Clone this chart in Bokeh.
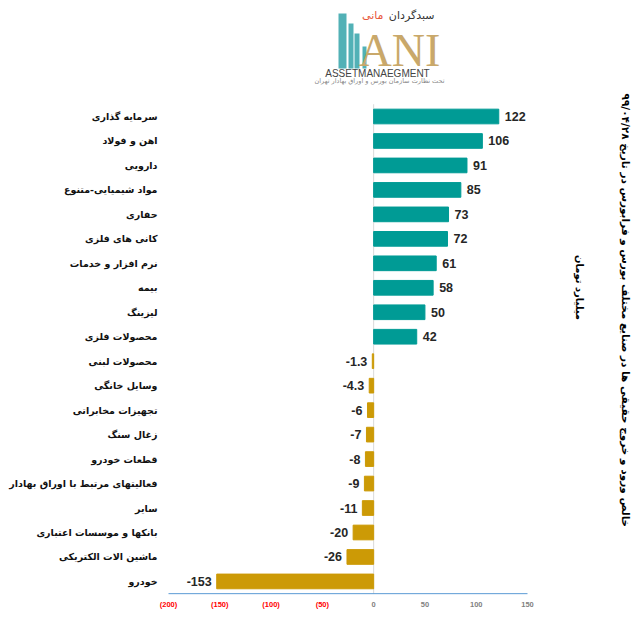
import math
from bokeh.plotting import figure
from bokeh.models import ColumnDataSource, Range1d, Label, BoxAnnotation
from bokeh.embed import file_html
from bokeh.resources import INLINE
from bokeh.core.properties import value

categories = ["سرمایه گذاری", "اهن و فولاد", "دارویی", "مواد شیمیایی-متنوع", "حفاری",
              "کانی های فلزی", "نرم افزار و خدمات", "بیمه", "لیزینگ", "محصولات فلزی",
              "محصولات لبنی", "وسایل خانگی", "تجهیزات مخابراتی", "زغال سنگ", "قطعات خودرو",
              "فعالیتهای مرتبط با اوراق بهادار", "سایر", "بانکها و موسسات اعتباری",
              "ماشین الات الکتریکی", "خودرو"]
values = [122, 106, 91, 85, 73, 72, 61, 58, 50, 42,
          -1.3, -4.3, -6, -7, -8, -9, -11, -20, -26, -153]
value_labels = ["122", "106", "91", "85", "73", "72", "61", "58", "50", "42",
                "-1.3", "-4.3", "-6", "-7", "-8", "-9", "-11", "-20", "-26", "-153"]
x_ticks = [-200, -150, -100, -50, 0, 50, 100, 150]
x_tick_labels = ["(200)", "(150)", "(100)", "(50)", "0", "50", "100", "150"]
title_text = "خالص ورود و خروج حقیقی ها در صنایع مختلف بورس و فرابورس در تاریخ ۹۹/۰۴/۲۸"
unit_text = "میلیارد تومان"

POS = "#009B95"
NEG = "#CC9A06"

# ---- layout (pixels on the canvas) ----
W, H = 635, 617
AX_LEFT_PX, AX_RIGHT_PX = 168, 527      # where the first / last x tick falls
TOP_ROW_PX, ROW_PITCH = 116, 24.47       # centre of first bar, row spacing
LABEL_RIGHT_PX = 157                     # right edge of category label column

n = len(categories)
ppu = (AX_RIGHT_PX - AX_LEFT_PX) / (x_ticks[-1] - x_ticks[0])
x_start = x_ticks[0] - AX_LEFT_PX / ppu
x_end = x_ticks[-1] + (W - AX_RIGHT_PX) / ppu
y_end = n + TOP_ROW_PX / ROW_PITCH
y_start = y_end - H / ROW_PITCH
axis_y = 0.5
tick_label_y = axis_y - 11 / ROW_PITCH
label_x = x_start + LABEL_RIGHT_PX / ppu

ypos = [n - i for i in range(n)]
colors = [POS if v >= 0 else NEG for v in values]
lab_off = [6 if v >= 0 else -5 for v in values]
lab_align = ["left" if v >= 0 else "right" for v in values]

src = ColumnDataSource(dict(y=ypos, cat=categories, val=values, color=colors,
                            lo=lab_off, la=lab_align, lt=value_labels,
                            cx=[label_x] * n))

p = figure(width=W, height=H, output_backend="svg", toolbar_location=None,
           x_range=Range1d(x_start, x_end), y_range=Range1d(y_start, y_end),
           min_border=0)
p.outline_line_color = None
p.background_fill_color = "white"
p.border_fill_color = "white"
p.grid.visible = False
p.axis.visible = False

# zero line and x axis line
p.segment(x0=[0], x1=[0], y0=[axis_y], y1=[n + 0.5], line_color="#D9D9D9", line_width=1)
p.segment(x0=[x_ticks[0]], x1=[x_ticks[-1]], y0=[axis_y], y1=[axis_y],
          line_color="#5B9BD5", line_width=1)

p.hbar(y="y", right="val", left=0, height=0.6, color="color", source=src)
p.text(x="val", y="y", text="lt", x_offset="lo", text_align="la", text_baseline="middle",
       text_font=value("Liberation Sans"), text_font_style="bold", text_font_size="12.5px",
       text_color="#262626", source=src)
p.text(x="cx", y="y", text="cat", text_align="right", text_baseline="middle",
       text_font=value("DejaVu Sans"), text_font_style="bold", text_font_size="9.5px",
       text_color="#111111", source=src)

# x tick labels
tsrc = ColumnDataSource(dict(x=x_ticks, t=x_tick_labels,
                             c=["#FF0000" if v < 0 else "#7F7F7F" for v in x_ticks]))
p.text(x="x", y=tick_label_y, text="t", source=tsrc, text_align="center",
       text_baseline="middle", text_color="c", text_font=value("Liberation Sans"),
       text_font_style="bold", text_font_size="7.5px")


def sy(y_top):
    return H - y_top


# vertical title and unit
p.add_layout(Label(x=625, y=sy(93), x_units="screen", y_units="screen", text=title_text,
                   angle=-math.pi / 2, text_font="DejaVu Sans", text_font_style="bold",
                   text_font_size="10.5px", text_color="#000000", text_align="left",
                   text_baseline="middle"))
p.add_layout(Label(x=579, y=sy(287), x_units="screen", y_units="screen", text=unit_text,
                   angle=-math.pi / 2, text_font="DejaVu Sans", text_font_style="bold",
                   text_font_size="10px", text_color="#000000", text_align="center",
                   text_baseline="middle"))

# logo (decorative)
for l, r, t in [(338, 346, 13), (348, 353, 23), (354, 359, 33), (362, 366, 46)]:
    p.add_layout(BoxAnnotation(left=l, right=r, top=sy(t), bottom=sy(68),
                               left_units="screen", right_units="screen",
                               top_units="screen", bottom_units="screen",
                               fill_color="#3FA9AE", fill_alpha=0.9, line_color=None))
p.add_layout(Label(x=358, y=sy(50), x_units="screen", y_units="screen", text="ANI",
                   text_font="Liberation Serif", text_font_size="46px",
                   text_color="#C9A86A", text_baseline="middle"))
p.add_layout(Label(x=434, y=sy(15), x_units="screen", y_units="screen", text="سبدگردان",
                   text_font="DejaVu Sans", text_font_size="11px", text_color="#333333",
                   text_align="right", text_baseline="middle"))
p.add_layout(Label(x=383, y=sy(15), x_units="screen", y_units="screen", text="مانی",
                   text_font="DejaVu Sans", text_font_size="11px", text_color="#E8553A",
                   text_align="right", text_baseline="middle"))
p.add_layout(Label(x=377, y=sy(73), x_units="screen", y_units="screen", text="ASSETMANAEGMENT",
                   text_font="Liberation Sans", text_font_size="10px", text_color="#444444",
                   text_align="center", text_baseline="middle"))
p.add_layout(Label(x=379, y=sy(80), x_units="screen", y_units="screen",
                   text="تحت نظارت سازمان بورس و اوراق بهادار تهران",
                   text_font="DejaVu Sans", text_font_size="6.5px", text_color="#888888",
                   text_align="center", text_baseline="middle"))

open("out.html", "w").write(file_html(p, INLINE))
